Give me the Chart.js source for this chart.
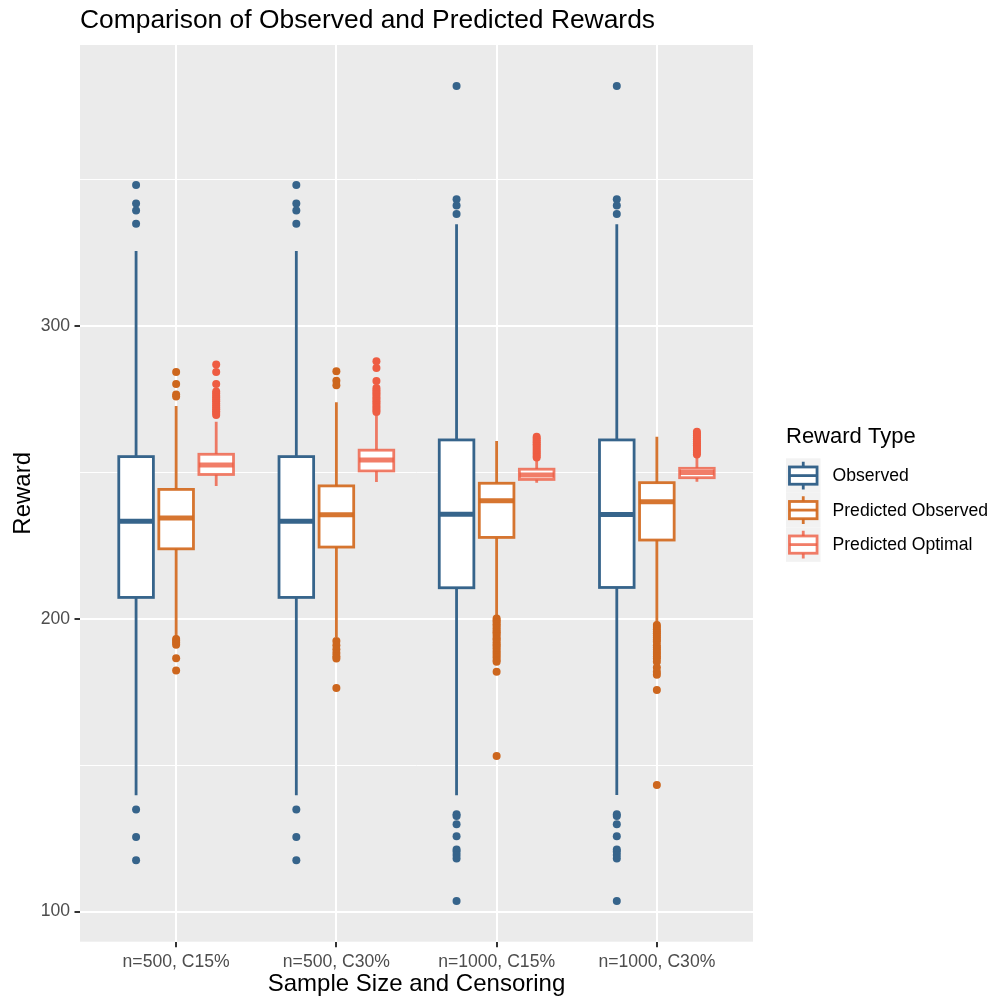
<!DOCTYPE html>
<html><head><meta charset="utf-8">
<script src="https://cdn.jsdelivr.net/npm/chart.js@4/dist/chart.umd.min.js"></script>
<style>html,body{margin:0;padding:0;background:#fff;}</style>
</head><body>
<canvas id="c" width="994" height="1003"></canvas>
<script>
// ---------- DATA ----------
const categories = ['n=500, C15%', 'n=500, C30%', 'n=1000, C15%', 'n=1000, C30%'];
const seriesNames = ['Observed', 'Predicted Observed', 'Predicted Optimal'];
const yTickValues = [100, 150, 200, 250, 300, 350];

const observedLow    = [139.7, 139.7, 139.7, 139.8];
const observedQ1     = [207.3, 207.3, 210.6, 210.7];
const observedMedian = [233.3, 233.3, 235.7, 235.6];
const observedQ3     = [255.4, 255.4, 261.1, 261.1];
const observedHigh   = [325.6, 325.6, 334.8, 334.8];
const observedOutliers = [
  [348.2, 341.9, 339.5, 334.9, 134.9, 125.5, 117.5],
  [348.2, 341.9, 339.5, 334.9, 134.9, 125.5, 117.5],
  [382.0, 343.3, 341.2, 338.3, 133.2, 132.6, 129.8, 125.7, 121.2, 120.4, 119.3, 118.1, 103.6],
  [382.0, 343.3, 341.2, 338.3, 133.2, 132.6, 129.8, 125.7, 121.2, 120.4, 119.3, 118.1, 103.6]
];

const predObsLow    = [194.0, 193.8, 200.7, 198.5];
const predObsQ1     = [223.9, 224.5, 227.8, 226.9];
const predObsMedian = [234.4, 235.5, 240.3, 240.0];
const predObsQ3     = [244.2, 245.4, 246.3, 246.5];
const predObsHigh   = [272.7, 274.0, 260.7, 262.2];
const predObsOutliers = [
  [284.3, 280.2, 276.6, 275.9, 193.1, 192.5, 191.8, 191.1, 186.5, 182.3],
  [284.6, 281.3, 279.8, 192.4, 191.0, 189.6, 188.3, 187.2, 186.4, 176.4],
  [200.1, 199.4, 198.9, 198.1, 197.5, 196.8, 196.0, 195.4, 194.9, 194.1, 193.3, 192.8, 192.0, 191.2, 190.7, 189.9, 189.1, 188.4, 187.6, 186.9, 185.9, 185.3, 181.9, 153.1],
  [197.9, 197.2, 196.4, 195.7, 195.1, 194.3, 193.6, 192.8, 192.2, 191.0, 190.2, 189.5, 188.7, 188.0, 187.1, 186.4, 185.3, 183.4, 181.9, 180.9, 175.7, 143.2]
];

const predOptLow    = [245.4, 246.7, 246.5, 246.8];
const predOptQ1     = [249.3, 250.5, 247.6, 248.2];
const predOptMedian = [252.5, 254.2, 249.1, 250.0];
const predOptQ3     = [256.2, 257.6, 251.1, 251.4];
const predOptHigh   = [267.3, 269.5, 254.4, 255.3];
const predOptOutliers = [
  [286.9, 284.3, 280.2, 277.6, 277.0, 276.2, 275.6, 274.9, 274.3, 273.5, 272.9, 272.2, 271.6, 270.9, 270.3, 269.6],
  [288.0, 285.7, 281.2, 278.8, 278.1, 277.3, 276.6, 275.8, 275.1, 274.3, 273.6, 272.8, 272.1, 271.3, 270.6],
  [262.2, 261.6, 260.9, 260.3, 259.6, 259.0, 258.3, 257.7, 257.0, 256.4, 255.7, 255.1],
  [263.9, 263.2, 262.6, 261.9, 261.3, 260.6, 260.0, 259.3, 258.7, 258.0, 257.4, 256.7, 256.1]
];

// ---------- STYLE ----------
const pointColors = ['#36648B', '#CD661D', '#EE5C42'];
const lineColors  = ['#36648B', 'rgba(210,105,30,0.92)', 'rgba(238,92,66,0.8)'];
const FONT = "'Liberation Sans', Arial, Helvetica, sans-serif";

const stats = [
  {low: observedLow, q1: observedQ1, med: observedMedian, q3: observedQ3, high: observedHigh, out: observedOutliers},
  {low: predObsLow, q1: predObsQ1, med: predObsMedian, q3: predObsQ3, high: predObsHigh, out: predObsOutliers},
  {low: predOptLow, q1: predOptQ1, med: predOptMedian, q3: predOptQ3, high: predOptHigh, out: predOptOutliers}
];
const dodge = [-0.25, 0, 0.25];
const boxHalf = 0.108;

const datasets = stats.map((s, si) => ({
  label: seriesNames[si],
  data: s.out.flatMap((vals, ci) => vals.map(v => ({x: ci + 1 + dodge[si], y: v}))),
  backgroundColor: pointColors[si],
  borderWidth: 0,
  pointRadius: 4,
  pointHoverRadius: 4
}));

const panelPlugin = {
  id: 'panel',
  beforeDraw(chart) {
    const {ctx, chartArea: a} = chart;
    ctx.save();
    ctx.fillStyle = '#EBEBEB';
    ctx.fillRect(a.left, a.top, a.right - a.left, a.bottom - a.top);
    ctx.restore();
  },
  afterLayout(chart) {
    if (chart.titleBlock) chart.titleBlock.left = chart.chartArea.left;
  }
};

const boxPlugin = {
  id: 'boxes',
  beforeDatasetsDraw(chart) {
    const {ctx, scales: {x, y}} = chart;
    ctx.save();
    ctx.lineCap = 'butt';
    stats.forEach((s, si) => {
      categories.forEach((c, ci) => {
        const xv = ci + 1 + dodge[si];
        const xc = x.getPixelForValue(xv);
        const xl = x.getPixelForValue(xv - boxHalf);
        const xr = x.getPixelForValue(xv + boxHalf);
        const yLow = y.getPixelForValue(s.low[ci]);
        const yQ1 = y.getPixelForValue(s.q1[ci]);
        const yMed = y.getPixelForValue(s.med[ci]);
        const yQ3 = y.getPixelForValue(s.q3[ci]);
        const yHigh = y.getPixelForValue(s.high[ci]);
        ctx.strokeStyle = lineColors[si];
        ctx.lineWidth = 2.8;
        ctx.beginPath();
        ctx.moveTo(xc, yHigh); ctx.lineTo(xc, yQ3);
        ctx.moveTo(xc, yQ1); ctx.lineTo(xc, yLow);
        ctx.stroke();
        ctx.fillStyle = '#FFFFFF';
        ctx.fillRect(xl, yQ3, xr - xl, yQ1 - yQ3);
        ctx.strokeRect(xl, yQ3, xr - xl, yQ1 - yQ3);
        ctx.lineWidth = 5;
        ctx.beginPath();
        ctx.moveTo(xl, yMed); ctx.lineTo(xr, yMed);
        ctx.stroke();
      });
    });
    ctx.restore();
  }
};

const legendPlugin = {
  id: 'ggLegend',
  afterDraw(chart) {
    const {ctx, chartArea: a} = chart;
    const cy = (a.top + a.bottom) / 2;
    const keyX = a.right + 33;
    const key = 34.5;
    const keysTop = cy - 35;
    ctx.save();
    ctx.fillStyle = '#000';
    ctx.textBaseline = 'alphabetic';
    ctx.textAlign = 'left';
    ctx.font = '22px ' + FONT;
    ctx.fillText('Reward Type', keyX, keysTop - 15);
    seriesNames.forEach((name, i) => {
      const t = keysTop + i * key;
      ctx.fillStyle = '#F2F2F2';
      ctx.fillRect(keyX, t, key, key);
      const xc = keyX + key / 2;
      ctx.strokeStyle = lineColors[i];
      ctx.lineWidth = 2.8;
      ctx.beginPath();
      ctx.moveTo(xc, t + key * 0.1); ctx.lineTo(xc, t + key * 0.25);
      ctx.moveTo(xc, t + key * 0.75); ctx.lineTo(xc, t + key * 0.9);
      ctx.stroke();
      ctx.fillStyle = '#fff';
      ctx.fillRect(keyX + key * 0.1, t + key * 0.25, key * 0.8, key * 0.5);
      ctx.strokeRect(keyX + key * 0.1, t + key * 0.25, key * 0.8, key * 0.5);
      ctx.beginPath();
      ctx.moveTo(keyX + key * 0.1, t + key * 0.5); ctx.lineTo(keyX + key * 0.9, t + key * 0.5);
      ctx.stroke();
      ctx.fillStyle = '#000';
      ctx.font = '17.6px ' + FONT;
      ctx.textBaseline = 'middle';
      ctx.fillText(name, keyX + 46.5, t + key / 2 + 1);
    });
    ctx.restore();
  }
};

new Chart(document.getElementById('c'), {
  type: 'scatter',
  data: {datasets},
  plugins: [panelPlugin, boxPlugin, legendPlugin],
  options: {
    responsive: false,
    animation: false,
    devicePixelRatio: 1,
    layout: {padding: {left: 0, right: 241, top: 0, bottom: 0}},
    plugins: {
      legend: {display: false},
      tooltip: {enabled: false},
      title: {
        display: true,
        text: 'Comparison of Observed and Predicted Rewards',
        align: 'start',
        color: '#000',
        font: {family: FONT, size: 26.4, weight: 'normal'},
        padding: {top: 5, bottom: 8.32}
      }
    },
    scales: {
      x: {
        type: 'linear',
        min: 0.4, max: 4.6,
        afterFit(scale) { scale.height = 61.3; },
        afterBuildTicks(scale) { scale.ticks = categories.map((c, i) => ({value: i + 1})); },
        ticks: {
          callback: (v) => categories[v - 1] || '',
          color: '#4D4D4D',
          font: {family: FONT, size: 17.6},
          padding: 4.4,
          maxRotation: 0, autoSkip: false
        },
        grid: {color: '#FFFFFF', lineWidth: 2, tickColor: '#333333', tickLength: 5.5, tickWidth: 2},
        border: {display: false},
        title: {display: true, text: 'Sample Size and Censoring', color: '#000', font: {family: FONT, size: 24}, padding: {top: 0, bottom: 4}}
      },
      y: {
        min: 89.7, max: 396,
        afterFit(scale) { scale.width = 80; },
        afterBuildTicks(scale) { scale.ticks = yTickValues.map(v => ({value: v})); },
        ticks: {
          callback: (v) => (v % 100 === 0 ? String(v) : ''),
          color: '#4D4D4D',
          font: {family: FONT, size: 17.6},
          padding: 4.4
        },
        grid: {
          color: '#FFFFFF',
          lineWidth: (ctx) => (ctx.tick && ctx.tick.value % 100 === 0 ? 2 : 1),
          tickColor: (ctx) => (ctx.tick && ctx.tick.value % 100 === 0 ? '#333333' : 'rgba(0,0,0,0)'),
          tickLength: 5.5, tickWidth: 2
        },
        border: {display: false},
        title: {display: true, text: 'Reward', color: '#000', font: {family: FONT, size: 24}, padding: {top: 9, bottom: 0}}
      }
    }
  }
});
</script>
</body></html>
